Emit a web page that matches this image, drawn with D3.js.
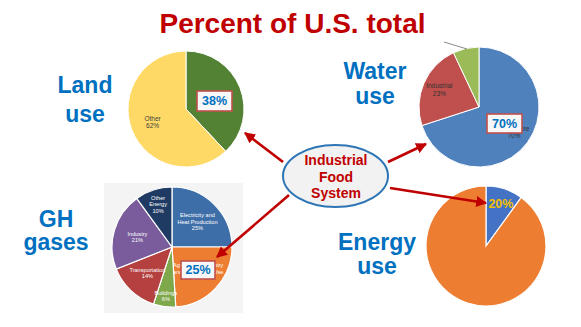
<!DOCTYPE html>
<html><head><meta charset="utf-8">
<script src="https://cdn.jsdelivr.net/npm/d3@7"></script>
<style>html,body{margin:0;padding:0;background:#fff;}svg{display:block;font-family:"Liberation Sans",Arial,sans-serif;}</style>
</head><body><svg id="c" width="581" height="327"></svg>
<script>
// ---- data ----
const landCategories = ["Industrial Food System", "Other"];
const landValues = [38, 62];
const landLabels = ["", "Other\n62%"];

const waterCategories = ["Agriculture", "Industrial", "Domestic"];
const waterValues = [70, 23, 7];
const waterLabels = ["Agriculture\n70%", "Industrial\n23%", ""];

const ghgCategories = ["Electricity and Heat Production", "Agriculture, Forestry and Other Land Use", "Buildings", "Transportation", "Industry", "Other Energy"];
const ghgValues = [25, 24, 6, 14, 21, 10];
const ghgLabels = ["Electricity and\nHeat Production\n25%", "Agriculture, Forestry\nand Other Land Use\n24%", "Buildings\n6%", "Transportation\n14%", "Industry\n21%", "Other\nEnergy\n10%"];

const energyCategories = ["Industrial Food System", "Other"];
const energyValues = [10, 90];

const callouts = ["38%", "70%", "25%", "20%"];
const titleText = "Percent of U.S. total";
const centerText = ["Industrial", "Food", "System"];

// ---- drawing ----
const svg = d3.select("#c");
const RED = "#c00000", BLUE = "#0070c0";

const defs = svg.append("defs");
defs.append("marker").attr("id","ah").attr("viewBox","0 0 10 10").attr("refX",9).attr("refY",5)
  .attr("markerWidth",4.2).attr("markerHeight",4.2).attr("orient","auto")
  .append("path").attr("d","M0,0 L10,5 L0,10 z").attr("fill",RED);

svg.append("text").attr("x",292.5).attr("y",33).attr("text-anchor","middle")
  .attr("font-size",28).attr("font-weight","bold").attr("fill",RED).text(titleText);

function bigLabel(lines, x, ys){
  lines.forEach((t,i)=>svg.append("text").attr("x",x).attr("y",ys[i]).attr("text-anchor","middle")
    .attr("font-size",23).attr("font-weight","bold").attr("fill",BLUE).text(t));
}
bigLabel(["Land","use"],85,[93,122]);
bigLabel(["Water","use"],375,[79,104]);
bigLabel(["GH","gases"],56,[227,250]);
bigLabel(["Energy","use"],377,[250,274]);

// GHG background panel
svg.append("rect").attr("x",104).attr("y",183).attr("width",139).attr("height",130).attr("fill","#f4f4f4");

const pie = d3.pie().sort(null).startAngle(0).endAngle(2*Math.PI);

function drawPie(values, colors, cx, cy, r, labels, opts){
  const g = svg.append("g").attr("transform",`translate(${cx},${cy})`);
  const arcs = pie(values);
  const arc = d3.arc().innerRadius(0).outerRadius(r);
  g.selectAll("path").data(arcs).join("path").attr("d",arc)
    .attr("fill",(d,i)=>colors[i]).attr("stroke","#fff").attr("stroke-width",opts.sw||1);
  if(labels){
    arcs.forEach((d,i)=>{
      if(!labels[i]) return;
      const f = (opts.lr && opts.lr[i]) || opts.labelR;
      const la = d3.arc().innerRadius(r*f).outerRadius(r*f);
      const [x,y] = la.centroid(d);
      const lines = labels[i].split("\n");
      const lh = opts.fs*1.15;
      const t = g.append("text").attr("text-anchor","middle").attr("font-size",opts.fs)
        .attr("fill",opts.lc).attr("font-weight",opts.fw||"normal");
      lines.forEach((ln,k)=>t.append("tspan").attr("x",x).attr("y",y+(k-(lines.length-1)/2)*lh+opts.fs*0.35).text(ln));
    });
  }
  return {g, arcs, arc};
}

drawPie(landValues, ["#548235","#ffd966"], 186, 109, 58, landLabels, {labelR:0.62, fs:6.5, lc:"#404040"});
const water = drawPie(waterValues, ["#4f81bd","#c0504d","#9bbb59"], 479, 107, 60, waterLabels, {labelR:0.72, fs:6.5, lc:"#333"});
drawPie(ghgValues, ["#3e6ea7","#ed7d31","#7fa84a","#b4403f","#7a5c9c","#1f3a63"], 172, 247, 60, ghgLabels,
  {labelR:0.6, lr:{5:0.75,2:0.82}, fs:5.6, lc:"#fff", sw:1.2});
const energy = drawPie(energyValues, ["#4472c4","#ed7d31"], 486, 246, 60, null, {sw:1.2});

// water leader line (cut-off label)
svg.append("line").attr("x1",444).attr("y1",42).attr("x2",467).attr("y2",49).attr("stroke","#8a8a8a").attr("stroke-width",1);

// callout boxes
function box(txt, x, y, w, h){
  svg.append("rect").attr("x",x).attr("y",y).attr("width",w).attr("height",h)
    .attr("fill","#f7f7f7").attr("stroke","#c0504d").attr("stroke-width",1.6);
  svg.append("text").attr("x",x+w/2).attr("y",y+h/2+4.3).attr("text-anchor","middle")
    .attr("font-size",12.5).attr("font-weight","bold").attr("fill",BLUE).text(txt);
}
box(callouts[0],197,91,35,20);
box(callouts[1],487,114,35,19);
box(callouts[2],181,261,34,18);

// energy label
{
  const la = d3.arc().innerRadius(60*0.75).outerRadius(60*0.75);
  const [x,y] = la.centroid(energy.arcs[0]);
  svg.append("text").attr("x",486+x+1).attr("y",246+y+4.5).attr("text-anchor","middle")
    .attr("font-size",12.5).attr("font-weight","bold").attr("fill","#f5c000").text(callouts[3]);
}

// arrows
const arrows = [[283,162,245,133],[289,195,217,257],[388,162,426,144],[390,188,486,203]];
arrows.forEach(a=>svg.append("line").attr("x1",a[0]).attr("y1",a[1]).attr("x2",a[2]).attr("y2",a[3])
  .attr("stroke",RED).attr("stroke-width",2.6).attr("marker-end","url(#ah)"));

// center ellipse
svg.append("ellipse").attr("cx",335.5).attr("cy",176).attr("rx",52.5).attr("ry",31)
  .attr("fill","#f2f2f2").attr("stroke","#2e75b6").attr("stroke-width",2);
centerText.forEach((t,i)=>svg.append("text").attr("x",336).attr("y",165+i*16.5).attr("text-anchor","middle")
  .attr("font-size",14).attr("font-weight","bold").attr("fill",RED).text(t));
</script></body></html>
